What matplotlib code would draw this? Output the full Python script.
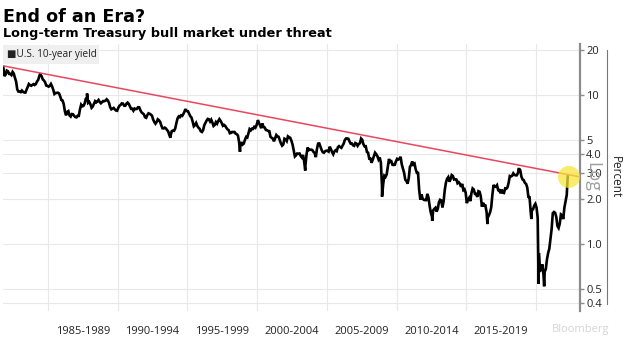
import numpy as np
import matplotlib
matplotlib.use("Agg")
import matplotlib.pyplot as plt
from matplotlib.lines import Line2D
from matplotlib.patches import Rectangle

# ---------------- data ----------------
start_year = 1981
start_month = 10  # October 1981
monthly_yield = [
    15.38, 13.39, 13.72,                                                         # 1981 Oct-Dec
    14.59, 14.43, 13.86, 13.87, 13.62, 14.30, 13.95, 13.06, 12.34, 10.91, 10.55, 10.54,  # 1982
    10.46, 10.72, 10.51, 10.40, 10.38, 10.85, 11.38, 11.85, 11.65, 11.54, 11.69, 11.83,  # 1983
    11.67, 11.84, 12.32, 12.63, 13.41, 13.56, 13.36, 12.72, 12.52, 12.16, 11.57, 11.50,  # 1984
    11.38, 11.51, 11.86, 11.43, 10.85, 10.16, 10.31, 10.33, 10.37, 10.24, 9.78, 9.26,    # 1985
    9.19, 8.70, 7.78, 7.30, 7.71, 7.80, 7.30, 7.17, 7.45, 7.43, 7.25, 7.11,              # 1986
    7.08, 7.25, 7.25, 8.02, 8.61, 8.40, 8.45, 8.76, 9.42, 9.52, 8.86, 8.99,              # 1987
    8.67, 8.21, 8.37, 8.72, 9.09, 8.92, 9.06, 9.26, 8.98, 8.80, 8.96, 9.11,              # 1988
    9.09, 9.17, 9.36, 9.18, 8.86, 8.28, 8.02, 8.11, 8.19, 8.01, 7.87, 7.84,              # 1989
    8.21, 8.47, 8.59, 8.79, 8.76, 8.48, 8.47, 8.75, 8.89, 8.72, 8.39, 8.08,              # 1990
    8.09, 7.85, 8.11, 8.04, 8.07, 8.28, 8.27, 7.90, 7.65, 7.53, 7.42, 7.09,              # 1991
    7.03, 7.34, 7.54, 7.48, 7.39, 7.26, 6.84, 6.59, 6.42, 6.59, 6.87, 6.77,              # 1992
    6.60, 6.26, 5.98, 5.97, 6.04, 5.96, 5.81, 5.68, 5.36, 5.33, 5.72, 5.77,              # 1993
    5.75, 5.97, 6.48, 6.97, 7.18, 7.10, 7.30, 7.24, 7.46, 7.74, 7.96, 7.81,              # 1994
    7.78, 7.47, 7.20, 7.06, 6.63, 6.17, 6.28, 6.49, 6.20, 6.04, 5.93, 5.71,              # 1995
    5.65, 5.81, 6.27, 6.51, 6.74, 6.91, 6.87, 6.64, 6.83, 6.53, 6.20, 6.30,              # 1996
    6.58, 6.42, 6.69, 6.89, 6.71, 6.49, 6.22, 6.30, 6.21, 6.03, 5.88, 5.81,              # 1997
    5.54, 5.57, 5.65, 5.64, 5.65, 5.50, 5.46, 5.34, 4.81, 4.53, 4.83, 4.65,              # 1998
    4.72, 5.00, 5.23, 5.18, 5.54, 5.90, 5.79, 5.94, 5.92, 6.11, 6.03, 6.28,              # 1999
    6.66, 6.52, 6.26, 5.99, 6.44, 6.10, 6.05, 5.83, 5.80, 5.74, 5.72, 5.24,              # 2000
    5.16, 5.10, 4.89, 5.14, 5.39, 5.28, 5.24, 4.97, 4.73, 4.57, 4.65, 5.09,              # 2001
    5.04, 4.91, 5.28, 5.21, 5.16, 4.93, 4.65, 4.26, 3.87, 3.94, 4.05, 4.03,              # 2002
    4.05, 3.90, 3.81, 3.96, 3.57, 3.33, 3.98, 4.45, 4.27, 4.29, 4.30, 4.27,              # 2003
    4.15, 4.08, 3.83, 4.35, 4.72, 4.73, 4.50, 4.28, 4.13, 4.10, 4.19, 4.23,              # 2004
    4.22, 4.17, 4.50, 4.34, 4.14, 4.00, 4.18, 4.26, 4.20, 4.46, 4.54, 4.47,              # 2005
    4.42, 4.57, 4.72, 4.99, 5.11, 5.11, 5.09, 4.88, 4.72, 4.73, 4.60, 4.56,              # 2006
    4.76, 4.72, 4.56, 4.69, 4.75, 5.10, 5.00, 4.67, 4.52, 4.53, 4.15, 4.10,              # 2007
    3.74, 3.74, 3.51, 3.68, 3.88, 4.10, 4.01, 3.89, 3.69, 3.81, 3.53, 2.42,              # 2008
    2.52, 2.87, 2.82, 2.93, 3.29, 3.72, 3.56, 3.59, 3.40, 3.39, 3.40, 3.59,              # 2009
    3.73, 3.69, 3.73, 3.85, 3.42, 3.20, 3.01, 2.70, 2.65, 2.54, 2.76, 3.29,              # 2010
    3.39, 3.58, 3.41, 3.46, 3.17, 3.00, 3.00, 2.30, 1.98, 2.15, 2.01, 1.98,              # 2011
    1.97, 1.97, 2.17, 2.05, 1.80, 1.62, 1.53, 1.68, 1.72, 1.75, 1.65, 1.72,              # 2012
    1.91, 1.98, 1.96, 1.76, 1.93, 2.30, 2.58, 2.74, 2.81, 2.62, 2.72, 2.90,              # 2013
    2.86, 2.71, 2.72, 2.71, 2.56, 2.60, 2.54, 2.42, 2.53, 2.30, 2.33, 2.21,              # 2014
    1.88, 1.98, 2.04, 1.94, 2.20, 2.36, 2.32, 2.17, 2.17, 2.07, 2.26, 2.24,              # 2015
    2.09, 1.78, 1.89, 1.81, 1.81, 1.64, 1.50, 1.56, 1.63, 1.76, 2.14, 2.49,              # 2016
    2.43, 2.42, 2.48, 2.30, 2.30, 2.19, 2.32, 2.21, 2.20, 2.36, 2.35, 2.40,              # 2017
    2.58, 2.86, 2.84, 2.87, 2.98, 2.91, 2.89, 2.89, 3.00, 3.15, 3.12, 2.83,              # 2018
    2.71, 2.68, 2.57, 2.53, 2.40, 2.07, 2.06, 1.63, 1.70, 1.71, 1.81, 1.86,              # 2019
    1.76, 1.50, 0.87, 0.66, 0.67, 0.73, 0.62, 0.65, 0.68, 0.79, 0.87, 0.93,              # 2020
    1.08, 1.26, 1.61, 1.64, 1.62, 1.52, 1.32, 1.28, 1.37, 1.58, 1.56, 1.47,              # 2021
    1.76, 1.93, 2.13,                                                                    # 2022 Jan-Mar
]
# intra-month extremes visible in the daily line (decimal year, percent)
extreme_dates = [1984.45, 1987.80, 1993.78, 1994.85, 1998.77, 2000.05, 2003.45,
                 2008.96, 2012.56, 2016.52, 2018.79, 2019.67, 2020.19, 2020.59, 2022.28]
extreme_yield = [13.99, 10.23, 5.17, 8.05, 4.16, 6.79, 3.11,
                 2.08, 1.43, 1.36, 3.24, 1.47, 0.54, 0.52, 2.85]

trend_dates = [1981.77, 2023.16]
trend_yield = [15.7, 2.82]
highlight_date = 2022.37
highlight_yield = 2.82

ytick_values = [0.4, 0.5, 1, 2, 3, 4, 5, 10, 20]
ytick_labels = ["0.4", "0.5", "1.0", "2.0", "3.0", "4.0", "5", "10", "20"]
period_starts = [1985, 1990, 1995, 2000, 2005, 2010, 2015]
period_labels = ["1985-1989", "1990-1994", "1995-1999", "2000-2004",
                 "2005-2009", "2010-2014", "2015-2019"]
grid_years = [1985, 1990, 1995, 2000, 2005, 2010, 2015, 2020]

# ---------------- build series ----------------
m_dates = start_year + (start_month - 0.5) / 12 + np.arange(len(monthly_yield)) / 12
dates = np.concatenate([m_dates, extreme_dates])
vals = np.concatenate([monthly_yield, extreme_yield])
order = np.argsort(dates)
dates, vals = dates[order], vals[order]

# ---------------- figure ----------------
W, H = 624, 337
fig = plt.figure(figsize=(W / 100, H / 100), dpi=100)
fig.patch.set_facecolor("white")
SANS = ["Open Sans", "DejaVu Sans"]

def fx(px):
    return px / W

def fy(py):
    return 1 - py / H

left, right, top, bottom = 3, 580, 44, 311
ax = fig.add_axes([fx(left), fy(bottom), (right - left) / W, (bottom - top) / H])
ax.set_yscale("log")
ax.set_xlim(1981.77, 2023.16)
ax.set_ylim(0.355, 22.0)

# grid
for yv in ytick_values:
    ax.axhline(yv, color="#e8e8e8", lw=0.8, zorder=0)
for xv in grid_years:
    ax.axvline(xv, color="#e8e8e8", lw=0.8, zorder=0)

# data
ax.plot(dates, vals, color="black", lw=1.9, zorder=3, solid_joinstyle="miter")
ax.plot(trend_dates, trend_yield, color="#e8475f", lw=1.1, zorder=4)
ax.scatter([highlight_date], [highlight_yield], s=250, color="#f7e53b", alpha=0.75,
           edgecolors="none", zorder=5, clip_on=False)

# spines
for s in ["top", "left", "bottom"]:
    ax.spines[s].set_visible(False)
ax.spines["right"].set_color("#8c8c8c")
ax.spines["right"].set_linewidth(1.6)

# y ticks on the right
ax.yaxis.tick_right()
ax.yaxis.set_minor_locator(matplotlib.ticker.NullLocator())
ax.set_yticks(ytick_values)
ax.set_yticklabels(ytick_labels)
ax.tick_params(axis="y", which="major", direction="out", length=3, width=1,
               color="#8c8c8c", labelsize=8, pad=1.5, labelcolor="#222222")
for t in ax.get_yticklabels():
    t.set_fontfamily(SANS)

# x ticks: period labels between grid lines
ax.set_xticks([p + 2.5 for p in period_starts])
ax.set_xticklabels(period_labels)
ax.tick_params(axis="x", which="major", length=0, labelsize=8, pad=11,
               labelcolor="#222222")
for t in ax.get_xticklabels():
    t.set_fontfamily(SANS)

# titles
fig.text(fx(3), fy(22), "End of an Era?", fontsize=12.6, fontweight="bold",
         family="DejaVu Sans", va="baseline", ha="left")
fig.text(fx(3), fy(37.5), "Long-term Treasury bull market under threat", fontsize=9.3,
         fontweight="bold", family="DejaVu Sans", va="baseline", ha="left")

# legend box
fig.add_artist(Rectangle((fx(3), fy(64)), (99 - 3) / W, (64 - 45) / H,
                         transform=fig.transFigure, facecolor="#efefef",
                         edgecolor="none", zorder=6))
fig.text(fx(7), fy(55), "\u25a0U.S. 10-year yield", fontsize=7.2, family=SANS,
         va="center", ha="left", color="#222222", zorder=7)

# right side labels
fig.text(fx(592), fy(177), "Log", rotation=270, fontsize=13, color="#a0a0a0",
         family=SANS, ha="center", va="center", zorder=8)
fig.text(fx(615), fy(177), "Percent", rotation=270, fontsize=8.5, color="#222222",
         family=SANS, ha="center", va="center")
fig.add_artist(Line2D([fx(607), fx(607)], [fy(50), fy(304)], transform=fig.transFigure,
                      color="#777777", lw=0.8))

# faint source watermark at the bottom edge
fig.text(fx(552), fy(324), "Bloomberg", fontsize=8, color="#d5d5d5",
         family=SANS, ha="left", va="top")

fig.savefig("out.png", dpi=100)
